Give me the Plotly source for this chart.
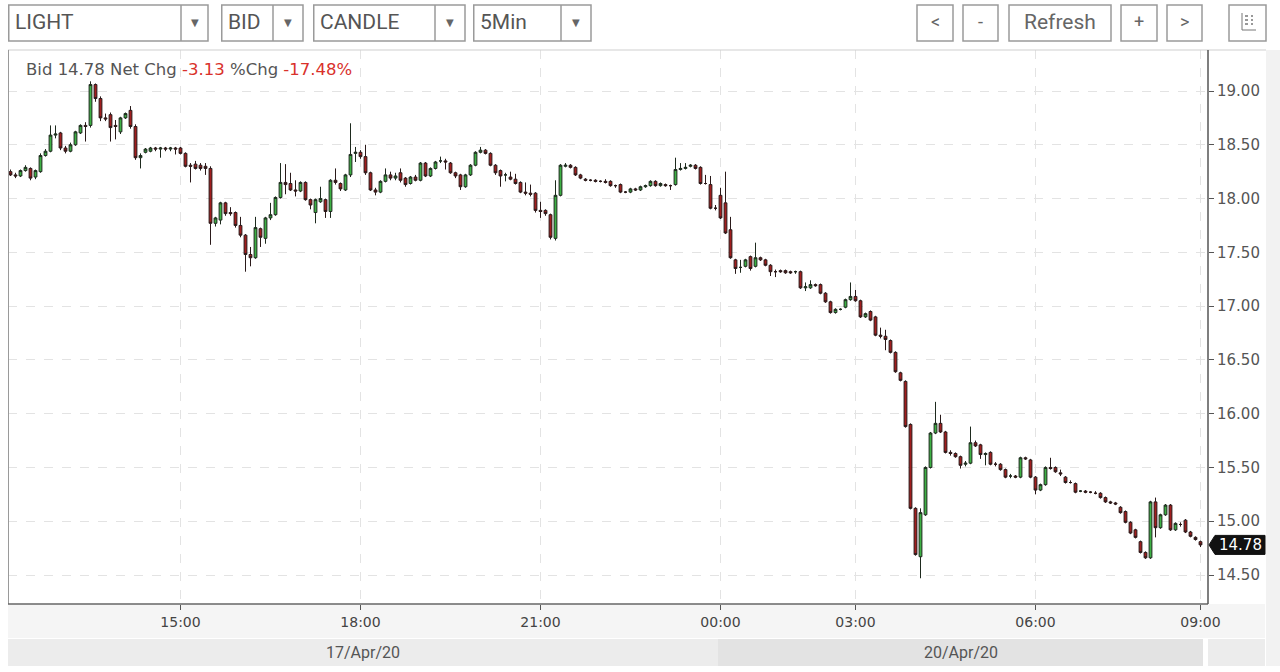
import plotly.graph_objects as go
import pandas as pd

# ---- 5-minute sessions (bars only where trades exist) ----
sessions = [
    ("2020-04-17 12:10", "2020-04-17 23:55"),
    ("2020-04-20 00:00", "2020-04-20 00:55"),
    ("2020-04-20 01:45", "2020-04-20 07:35"),
    ("2020-04-20 07:55", "2020-04-20 09:00"),
]

opens = [
    18.25, 18.22, 18.21, 18.26, 18.28, 18.20, 18.25, 18.40, 18.44, 18.59,
    18.61, 18.47, 18.44, 18.50, 18.61, 18.68, 18.68, 19.06, 18.93, 18.75,
    18.78, 18.68, 18.62, 18.75, 18.82, 18.67, 18.38, 18.43, 18.44, 18.47,
    18.46, 18.47, 18.46, 18.47, 18.47, 18.42, 18.31, 18.32, 18.31, 18.30,
    18.28, 17.77, 17.80, 17.96, 17.87, 17.87, 17.75, 17.66, 17.48, 17.45,
    17.72, 17.63, 17.82, 17.85, 18.01, 18.15, 18.14, 18.08, 18.07, 18.15,
    17.99, 17.87, 17.97, 17.99, 17.88, 18.17, 18.14, 18.08, 18.22, 18.42,
    18.43, 18.39, 18.24, 18.08, 18.06, 18.16, 18.22, 18.19, 18.24, 18.19,
    18.14, 18.20, 18.17, 18.33, 18.21, 18.28, 18.35, 18.35, 18.33, 18.24,
    18.22, 18.11, 18.22, 18.31, 18.43, 18.45, 18.42, 18.31, 18.26, 18.22,
    18.20, 18.18, 18.15, 18.06, 18.05, 18.05, 17.89, 17.89, 17.85, 17.63,
    18.03, 18.30, 18.31, 18.29, 18.22, 18.18, 18.17, 18.17, 18.16, 18.16,
    18.16, 18.12, 18.13, 18.06, 18.06, 18.09, 18.08, 18.11, 18.12, 18.16,
    18.12, 18.13, 18.12, 18.13, 18.27, 18.28, 18.30, 18.31, 18.29, 18.14,
    18.13, 17.91, 18.03, 17.96, 17.71, 17.43, 17.36, 17.37, 17.46, 17.37,
    17.45, 17.43, 17.38, 17.32, 17.33, 17.33, 17.32, 17.32, 17.32, 17.17,
    17.17, 17.20, 17.20, 17.12, 17.04, 16.94, 16.97, 16.99, 17.06, 17.09,
    17.05, 16.90, 16.95, 16.90, 16.73, 16.72, 16.68, 16.57, 16.38, 16.30,
    15.90, 15.12, 14.67, 15.06, 15.50, 15.82, 15.91, 15.83, 15.64, 15.63,
    15.60, 15.53, 15.54, 15.73, 15.71, 15.62, 15.64, 15.53, 15.53, 15.48,
    15.42, 15.42, 15.41, 15.59, 15.57, 15.41, 15.29, 15.34, 15.50, 15.50,
    15.45, 15.41, 15.36, 15.35, 15.28, 15.28, 15.27, 15.26, 15.26, 15.22,
    15.18, 15.17, 15.13, 15.09, 14.99, 14.92, 14.81, 14.71, 14.66, 15.18,
    14.94, 15.06, 15.15, 14.92, 14.97, 15.01, 14.90, 14.85, 14.81,
]
highs = [
    18.27, 18.24, 18.27, 18.31, 18.29, 18.27, 18.42, 18.46, 18.68, 18.68,
    18.62, 18.49, 18.52, 18.63, 18.69, 18.71, 19.09, 19.07, 18.95, 18.79,
    18.80, 18.73, 18.76, 18.80, 18.86, 18.69, 18.42, 18.47, 18.48, 18.48,
    18.48, 18.48, 18.48, 18.48, 18.48, 18.43, 18.33, 18.35, 18.33, 18.33,
    18.30, 17.83, 17.97, 17.97, 17.92, 17.88, 17.83, 17.67, 17.55, 17.83,
    17.73, 17.83, 17.96, 18.02, 18.33, 18.32, 18.24, 18.17, 18.16, 18.16,
    18.00, 18.00, 18.11, 18.00, 18.18, 18.28, 18.15, 18.23, 18.70, 18.48,
    18.45, 18.50, 18.25, 18.10, 18.17, 18.28, 18.25, 18.24, 18.28, 18.20,
    18.21, 18.22, 18.34, 18.34, 18.29, 18.35, 18.39, 18.37, 18.34, 18.25,
    18.23, 18.23, 18.32, 18.44, 18.48, 18.46, 18.43, 18.32, 18.27, 18.24,
    18.25, 18.23, 18.16, 18.15, 18.13, 18.06, 17.97, 17.90, 17.86, 18.17,
    18.32, 18.33, 18.32, 18.30, 18.23, 18.19, 18.18, 18.18, 18.17, 18.18,
    18.17, 18.13, 18.14, 18.07, 18.10, 18.10, 18.12, 18.13, 18.17, 18.17,
    18.15, 18.14, 18.13, 18.38, 18.33, 18.33, 18.32, 18.32, 18.30, 18.22,
    18.21, 17.94, 18.10, 18.25, 17.83, 17.44, 17.43, 17.44, 17.47, 17.59,
    17.46, 17.44, 17.39, 17.34, 17.34, 17.34, 17.33, 17.33, 17.33, 17.22,
    17.24, 17.21, 17.21, 17.13, 17.05, 16.98, 16.98, 17.07, 17.22, 17.15,
    17.06, 16.94, 16.96, 16.91, 16.80, 16.78, 16.69, 16.58, 16.39, 16.31,
    15.91, 15.13, 15.12, 15.51, 15.83, 16.11, 15.99, 15.84, 15.66, 15.64,
    15.61, 15.56, 15.88, 15.75, 15.72, 15.64, 15.65, 15.55, 15.54, 15.49,
    15.44, 15.43, 15.60, 15.60, 15.58, 15.42, 15.35, 15.51, 15.59, 15.51,
    15.48, 15.42, 15.38, 15.36, 15.29, 15.29, 15.28, 15.28, 15.27, 15.23,
    15.19, 15.18, 15.14, 15.10, 15.00, 14.93, 14.82, 14.72, 15.19, 15.22,
    15.07, 15.16, 15.16, 14.99, 14.99, 15.02, 14.91, 14.86, 14.82,
]
lows = [
    18.21, 18.19, 18.20, 18.25, 18.17, 18.18, 18.24, 18.39, 18.43, 18.56,
    18.45, 18.42, 18.43, 18.49, 18.60, 18.53, 18.66, 18.90, 18.72, 18.72,
    18.53, 18.55, 18.60, 18.74, 18.65, 18.36, 18.28, 18.42, 18.43, 18.44,
    18.38, 18.44, 18.44, 18.41, 18.41, 18.29, 18.15, 18.27, 18.26, 18.22,
    17.57, 17.74, 17.76, 17.84, 17.84, 17.73, 17.64, 17.32, 17.37, 17.44,
    17.55, 17.58, 17.80, 17.84, 18.00, 18.04, 18.07, 18.02, 18.06, 17.98,
    17.90, 17.77, 17.96, 17.82, 17.82, 18.13, 18.07, 18.07, 18.20, 18.34,
    18.37, 18.22, 18.07, 18.03, 18.05, 18.15, 18.17, 18.17, 18.15, 18.11,
    18.13, 18.16, 18.16, 18.20, 18.20, 18.27, 18.33, 18.27, 18.23, 18.19,
    18.08, 18.10, 18.21, 18.30, 18.42, 18.41, 18.30, 18.22, 18.11, 18.16,
    18.17, 18.13, 18.05, 18.03, 18.02, 17.87, 17.82, 17.84, 17.62, 17.61,
    18.02, 18.29, 18.28, 18.21, 18.18, 18.16, 18.16, 18.15, 18.15, 18.14,
    18.11, 18.10, 18.05, 18.05, 18.05, 18.07, 18.07, 18.10, 18.11, 18.11,
    18.11, 18.11, 18.08, 18.12, 18.26, 18.27, 18.29, 18.27, 18.13, 18.13,
    17.90, 17.89, 17.81, 17.67, 17.44, 17.30, 17.31, 17.36, 17.33, 17.36,
    17.42, 17.37, 17.28, 17.27, 17.31, 17.30, 17.30, 17.30, 17.16, 17.14,
    17.16, 17.18, 17.11, 17.03, 16.93, 16.93, 16.96, 16.98, 17.05, 17.04,
    16.89, 16.89, 16.86, 16.72, 16.70, 16.59, 16.56, 16.38, 16.30, 15.87,
    15.11, 14.68, 14.47, 15.05, 15.49, 15.81, 15.82, 15.63, 15.61, 15.59,
    15.49, 15.51, 15.53, 15.69, 15.58, 15.52, 15.52, 15.51, 15.47, 15.40,
    15.40, 15.40, 15.40, 15.57, 15.40, 15.25, 15.28, 15.33, 15.48, 15.45,
    15.42, 15.35, 15.35, 15.26, 15.27, 15.26, 15.26, 15.25, 15.21, 15.17,
    15.16, 15.15, 15.07, 14.98, 14.88, 14.84, 14.70, 14.65, 14.65, 14.85,
    14.93, 15.05, 14.91, 14.91, 14.95, 14.89, 14.85, 14.82, 14.76,
]
closes = [
    18.22, 18.21, 18.26, 18.29, 18.19, 18.26, 18.40, 18.44, 18.59, 18.60,
    18.47, 18.44, 18.50, 18.62, 18.68, 18.67, 19.06, 18.93, 18.75, 18.74,
    18.66, 18.67, 18.75, 18.79, 18.67, 18.38, 18.40, 18.46, 18.47, 18.46,
    18.47, 18.46, 18.47, 18.46, 18.42, 18.30, 18.30, 18.28, 18.28, 18.28,
    17.77, 17.82, 17.96, 17.86, 17.86, 17.75, 17.66, 17.48, 17.45, 17.73,
    17.64, 17.82, 17.85, 18.01, 18.15, 18.13, 18.08, 18.07, 18.15, 17.99,
    17.94, 17.99, 18.00, 17.88, 18.17, 18.15, 18.09, 18.22, 18.41, 18.43,
    18.39, 18.24, 18.08, 18.06, 18.16, 18.22, 18.19, 18.21, 18.17, 18.13,
    18.20, 18.17, 18.33, 18.21, 18.28, 18.34, 18.35, 18.34, 18.24, 18.21,
    18.11, 18.22, 18.31, 18.43, 18.45, 18.42, 18.31, 18.24, 18.21, 18.22,
    18.18, 18.14, 18.06, 18.05, 18.04, 17.89, 17.88, 17.86, 17.64, 18.03,
    18.31, 18.31, 18.29, 18.22, 18.19, 18.17, 18.17, 18.16, 18.16, 18.15,
    18.12, 18.12, 18.06, 18.06, 18.09, 18.08, 18.11, 18.12, 18.16, 18.12,
    18.14, 18.12, 18.12, 18.27, 18.28, 18.29, 18.31, 18.28, 18.14, 18.14,
    17.91, 17.91, 17.82, 17.68, 17.45, 17.35, 17.36, 17.43, 17.35, 17.45,
    17.43, 17.38, 17.32, 17.32, 17.32, 17.31, 17.31, 17.32, 17.17, 17.18,
    17.20, 17.19, 17.12, 17.04, 16.94, 16.97, 16.97, 17.06, 17.09, 17.05,
    16.90, 16.93, 16.87, 16.73, 16.72, 16.69, 16.57, 16.39, 16.31, 15.88,
    15.12, 14.69, 15.08, 15.50, 15.82, 15.91, 15.83, 15.64, 15.63, 15.60,
    15.52, 15.54, 15.73, 15.70, 15.62, 15.63, 15.53, 15.53, 15.48, 15.41,
    15.42, 15.41, 15.59, 15.58, 15.41, 15.29, 15.34, 15.50, 15.49, 15.46,
    15.44, 15.36, 15.36, 15.27, 15.28, 15.27, 15.27, 15.26, 15.22, 15.18,
    15.17, 15.16, 15.08, 14.99, 14.89, 14.85, 14.71, 14.66, 15.18, 14.94,
    15.06, 15.15, 14.92, 14.98, 14.97, 14.90, 14.86, 14.83, 14.78,
]

price_ticks = [14.5, 15.0, 15.5, 16.0, 16.5, 17.0, 17.5, 18.0, 18.5, 19.0]
tick_hours = [0, 3, 6, 9, 15, 18, 21]
header_parts = [("Bid ", "#555"), ("14.78", "#555"), (" Net Chg ", "#555"),
                ("-3.13", "#d9312b"), (" %Chg ", "#555"), ("-17.48%", "#d9312b")]
toolbar_selects = [("LIGHT", 8, 208, 181), ("BID", 221, 303, 273),
                   ("CANDLE", 313, 465, 435), ("5Min", 473, 591, 561)]
toolbar_buttons = [("<", 917, 953), ("-", 963, 998), ("Refresh", 1009, 1111),
                   ("+", 1121, 1157), (">", 1167, 1202)]

# ---- time index ----
times = []
for a, b in sessions:
    times.extend(pd.date_range(a, b, freq="5min"))
idx = list(range(len(times)))

tickvals = [i for i, t in enumerate(times) if t.minute == 0 and t.hour in tick_hours]
ticktext = [times[i].strftime("%H:%M") for i in tickvals]

# ---- geometry helpers (pixel -> paper) ----
W, H = 1280, 672
L, R, T, B = 8, 72, 50, 68
PW, PH = W - L - R, H - T - B


def px(x):
    return (x - L) / PW


def py(y):
    return (H - B - y) / PH


fig = go.Figure()
fig.add_trace(go.Candlestick(
    x=idx, open=opens, high=highs, low=lows, close=closes,
    increasing=dict(fillcolor="#3cb043", line=dict(color="#1e2a1e", width=1)),
    decreasing=dict(fillcolor="#a11d1d", line=dict(color="#2a1a1a", width=1)),
    whiskerwidth=0, showlegend=False, hoverinfo="skip",
))

ymin = 19.0 - (H - B - 91) / 107.56
ymax = 19.0 + (91 - T) / 107.56

shapes = []
annotations = []

# background bands at bottom
shapes.append(dict(type="rect", xref="paper", yref="paper", x0=px(8), x1=px(1265),
                   y0=py(638), y1=py(604), fillcolor="#f5f5f5", line_width=0, layer="below"))
# date bands
day_groups = {}
for i, t in enumerate(times):
    day_groups.setdefault(t.strftime("%d/%b/%y"), []).append(i)
band_cols = ["#ececec", "#e3e3e3"]
for k, (day, ids) in enumerate(day_groups.items()):
    x0 = ids[0] - 0.5
    x1 = ids[-1] + 0.5
    shapes.append(dict(type="rect", xref="x", yref="paper", x0=x0, x1=x1,
                       y0=py(666), y1=py(639), fillcolor=band_cols[k % 2], line_width=0))
    annotations.append(dict(xref="x", yref="paper", x=(x0 + x1) / 2, y=py(652), text=day,
                            showarrow=False, font=dict(family="Roboto", size=16, color="#555"),
                            xanchor="center", yanchor="middle"))
shapes.append(dict(type="rect", xref="paper", yref="paper", x0=px(1208), x1=px(1265),
                   y0=py(666), y1=py(639), fillcolor="#ececec", line_width=0))
# right grey strip
shapes.append(dict(type="rect", xref="paper", yref="paper", x0=px(1266), x1=px(1280),
                   y0=py(666), y1=py(50), fillcolor="#f2f2f2", line_width=0))

# borders
shapes.append(dict(type="line", xref="paper", yref="paper", x0=px(8), x1=px(1266),
                   y0=py(50), y1=py(50), line=dict(color="#cfcfcf", width=1)))
shapes.append(dict(type="line", xref="paper", yref="paper", x0=px(8.5), x1=px(8.5),
                   y0=py(50), y1=py(604), line=dict(color="#9a9a9a", width=1)))
shapes.append(dict(type="line", xref="paper", yref="paper", x0=px(8), x1=px(1208),
                   y0=py(604), y1=py(604), line=dict(color="#666", width=1.5)))
shapes.append(dict(type="line", xref="paper", yref="paper", x0=px(1208), x1=px(1208),
                   y0=py(50), y1=py(604), line=dict(color="#555", width=1.5)))

# toolbar
tb_top, tb_bot = 5, 41
for label, x0, x1, xd in toolbar_selects:
    shapes.append(dict(type="rect", xref="paper", yref="paper", x0=px(x0 + 0.75), x1=px(x1),
                       y0=py(tb_bot), y1=py(tb_top), line=dict(color="#9a9a9a", width=1.5),
                       fillcolor="white"))
    shapes.append(dict(type="line", xref="paper", yref="paper", x0=px(xd), x1=px(xd),
                       y0=py(tb_bot), y1=py(tb_top), line=dict(color="#9a9a9a", width=1.5)))
    annotations.append(dict(xref="paper", yref="paper", x=px(x0 + 5), y=py(22), text=label,
                            showarrow=False, xanchor="left", yanchor="middle",
                            font=dict(family="Roboto", size=21, color="#555")))
    annotations.append(dict(xref="paper", yref="paper", x=px((xd + x1) / 2), y=py(23), text="▼",
                            showarrow=False, xanchor="center", yanchor="middle",
                            font=dict(family="DejaVu Sans", size=10, color="#666")))
for label, x0, x1 in toolbar_buttons:
    shapes.append(dict(type="rect", xref="paper", yref="paper", x0=px(x0), x1=px(x1),
                       y0=py(tb_bot), y1=py(tb_top), line=dict(color="#9a9a9a", width=1.5),
                       fillcolor="white"))
    annotations.append(dict(xref="paper", yref="paper", x=px((x0 + x1) / 2), y=py(22), text=label,
                            showarrow=False, xanchor="center", yanchor="middle",
                            font=dict(family="Roboto", size=21 if label == "Refresh" else 18,
                                      color="#666")))
# icon button
shapes.append(dict(type="rect", xref="paper", yref="paper", x0=px(1229), x1=px(1266),
                   y0=py(tb_bot), y1=py(tb_top), line=dict(color="#9a9a9a", width=1.5),
                   fillcolor="white"))
shapes.append(dict(type="line", xref="paper", yref="paper", x0=px(1242), x1=px(1242),
                   y0=py(30), y1=py(13), line=dict(color="#777", width=1)))
shapes.append(dict(type="line", xref="paper", yref="paper", x0=px(1242), x1=px(1256),
                   y0=py(30), y1=py(30), line=dict(color="#777", width=1)))
for yy in (16, 20, 24):
    shapes.append(dict(type="line", xref="paper", yref="paper", x0=px(1245), x1=px(1253),
                       y0=py(yy), y1=py(yy), line=dict(color="#777", width=1.5, dash="dot")))

# header text
header = "".join(f"<span style='color:{c}'>{t}</span>" for t, c in header_parts)
annotations.append(dict(xref="paper", yref="paper", x=px(24), y=py(70), text=header,
                        showarrow=False, xanchor="left", yanchor="middle",
                        font=dict(family="DejaVu Sans", size=16.5, color="#555")))

# last price tag
last = closes[-1]
hh = 9.5 / 107.56
path = (f"M {px(1209)},{last} L {px(1215)},{last + hh} L {px(1265)},{last + hh} "
        f"L {px(1265)},{last - hh} L {px(1215)},{last - hh} Z")
shapes.append(dict(type="path", xref="paper", yref="y", path=path,
                   fillcolor="#111", line=dict(color="#111", width=1)))
annotations.append(dict(xref="paper", yref="y", x=px(1240), y=last, text=f"{last:.2f}",
                        showarrow=False, xanchor="center", yanchor="middle",
                        font=dict(family="DejaVu Sans", size=15, color="white")))

fig.update_layout(
    width=W, height=H,
    margin=dict(l=L, r=R, t=T, b=B, pad=0),
    paper_bgcolor="white", plot_bgcolor="white",
    boxgap=0.2,
    shapes=shapes, annotations=annotations,
    xaxis=dict(
        range=[-0.5, len(times) - 0.5 + 1], rangeslider=dict(visible=False),
        tickmode="array", tickvals=tickvals, ticktext=ticktext,
        ticks="outside", ticklen=5, tickcolor="#555", tickwidth=1,
        showgrid=True, gridcolor="#e3e3e3", griddash="dash", gridwidth=1,
        zeroline=False, showline=False,
        tickfont=dict(family="DejaVu Sans", size=14, color="#444"),
        fixedrange=True,
    ),
    yaxis=dict(
        side="right", range=[ymin, ymax],
        tickmode="array", tickvals=price_ticks,
        ticktext=[f"{v:.2f}" for v in price_ticks],
        ticks="outside", ticklen=5, tickcolor="#555", tickwidth=1,
        showgrid=True, gridcolor="#e3e3e3", griddash="dash", gridwidth=1,
        zeroline=False, showline=False,
        tickfont=dict(family="DejaVu Sans", size=15, color="#555"),
        fixedrange=True,
    ),
)

fig.write_html("out.html", config={"displayModeBar": False},
               post_script="document.body.style.margin='0';")
